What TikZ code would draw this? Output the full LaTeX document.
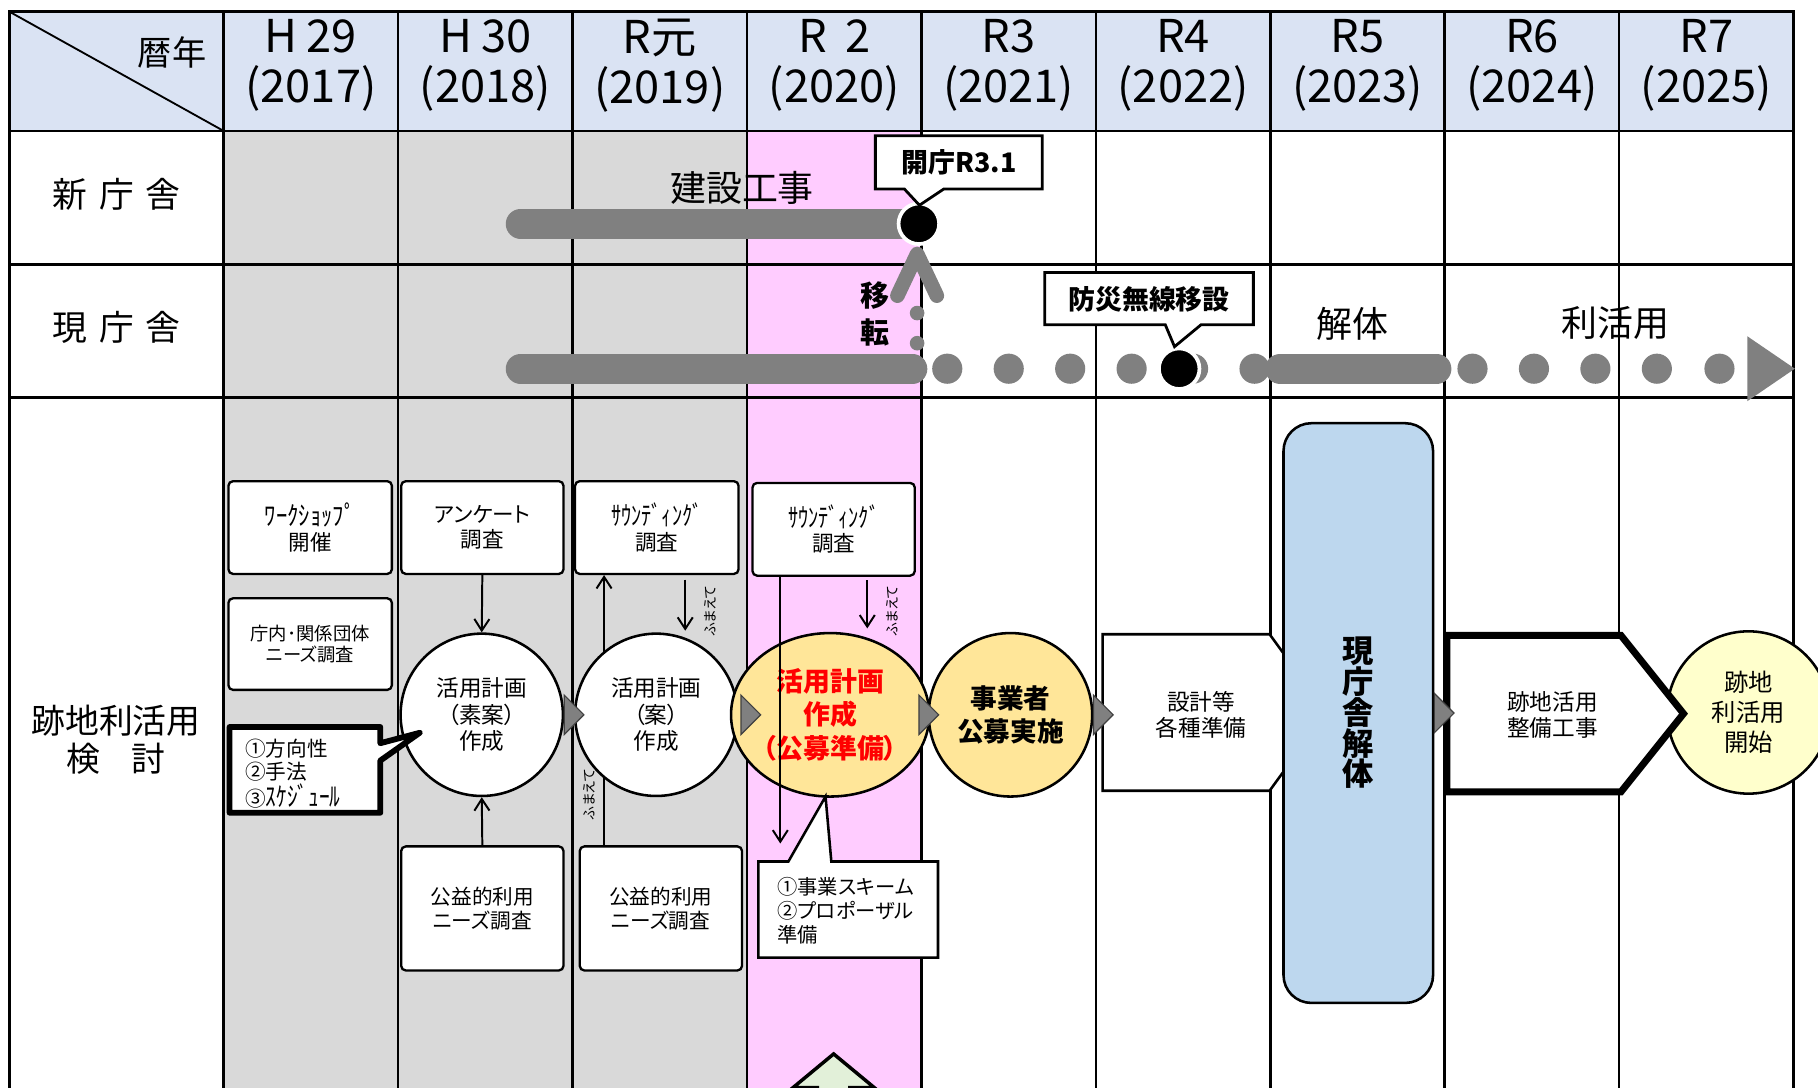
\documentclass[tikz,border=0pt]{standalone}
\usepackage{fontspec}
\usepackage{graphicx}
\setmainfont{Noto Sans CJK JP}[CharacterWidth=AlternateProportional]
\usetikzlibrary{arrows.meta,shapes.geometric}
\definecolor{hdr}{HTML}{DAE3F3}
\definecolor{greybg}{HTML}{D9D9D9}
\definecolor{pinkbg}{HTML}{FFCCFF}
\definecolor{barc}{HTML}{808080}
\definecolor{ylw}{HTML}{FFE699}
\definecolor{lylw}{HTML}{FFFFCC}
\definecolor{lblue}{HTML}{BDD7EE}
\definecolor{lgreen}{HTML}{E2F0D9}
\newcommand\myfs[2]{\fontsize{#1}{#2}\selectfont}
\newcommand\hwk[2]{\scalebox{#1}[1]{\myfs{11.5}{10.5}#2}}
\begin{document}
\begin{tikzpicture}[x=0.5pt,y=-0.5pt,
  gridl/.style={line width=1.1pt},
  barl/.style={draw=barc, line width=12.8pt, line cap=round},
  gdot/.style={circle, fill=barc, inner sep=0pt, minimum size=13pt},
  sdot/.style={circle, fill=barc, inner sep=0pt, minimum size=6.3pt},
  bdot/.style={circle, fill=black, draw=white, line width=1.6pt, inner sep=0pt, minimum size=17.5pt},
  sbox/.style={draw, line width=1pt, rounded corners=2pt, fill=white, align=center, inner sep=0pt, minimum width=70.5pt, minimum height=40pt, font=\myfs{9.3}{10.5}},
  circ/.style={circle, draw, line width=1.1pt, fill=white, align=center, inner sep=0pt, minimum size=70pt, font=\myfs{9.75}{11.5}},
  flowtri/.style={fill=barc, draw=black!75, line width=0.5pt},
  thinarr/.style={line width=0.85pt, -{Straight Barb[length=5pt,width=6.5pt]}},
  fumae/.style={rotate=90, font=\myfs{6}{6}, inner sep=0pt},
  calloutl/.style={draw, fill=white, line width=1.2pt, line join=miter},
  big/.style={font=\myfs{15.5}{18}, inner sep=0pt},
  hdrtxt/.style={align=center, inner sep=0pt, font=\myfs{19.5}{21.5}},
  boldlab/.style={inner sep=0pt, font=\myfs{11.6}{12}\bfseries},
]
\clip (0,0) rectangle (1568,938);
\fill[white] (0,0) rectangle (1568,938);
% backgrounds
\fill[hdr] (8,10) rectangle (1547,113);
\fill[greybg] (193,113) rectangle (644,950);
\fill[pinkbg] (644,113) rectangle (795,950);
% grid
\draw[gridl] (8,950) -- (8,10) -- (1547,10) -- (1547,950);
\foreach \y in {113,228,343} \draw[gridl] (8,\y) -- (1547,\y);
\draw[gridl] (193,10) -- (193,950);
\foreach \i in {1,...,8} \draw[gridl] ({193+150.44*\i},10) -- ({193+150.44*\i},950);
\draw[line width=0.8pt] (8,10) -- (193,113);
% header
\node[inner sep=0pt, font=\myfs{14.75}{16}] (reki) at (148.5,45) {暦年};
\foreach \i/\a/\b in {1/{H\hspace{0.2em}29}/2017,2/{H\hspace{0.2em}30}/2018,3/R元/2019,4/{R\hspace{0.4em}2}/2020,5/R3/2021,6/R4/2022,7/R5/2023,8/R6/2024,9/R7/2025}
  \node[hdrtxt] (yr\i) at ({193+150.44*(\i-0.5)},56.5) {\a\\(\b)};
% row labels
\node[inner sep=0pt, font=\myfs{15}{18}] (rl1) at (100.5,167.5) {新\hspace{5pt}庁\hspace{5pt}舎};
\node[inner sep=0pt, font=\myfs{15}{18}] (rl2) at (100.5,282.5) {現\hspace{5pt}庁\hspace{5pt}舎};
\node[inner sep=0pt, align=center, font=\myfs{14.6}{16.75}] (rl3) at (100,638) {跡地利活用\\検\hspace{0.9em}討};
% new building row
\coordinate (kaicho) at (792.5,193);
\draw[barl] (449,193) -- (kaicho);
\node[big] (kensetsu) at (640,162) {建設工事};
\node[bdot] (kc) at (kaicho) {};
\draw[calloutl] (755,117) -- (899,117) -- (899,163) -- (814,163) -- (793,177) -- (780,163) -- (755,163) -- cycle;
\node[boldlab] (kaichot) at (827,140) {開庁R3.1};
% current building row
\coordinate (g1) at (449,318);
\coordinate (g2) at (787,318);
\draw[barl] (g1) -- (g2);
\foreach \x in {817,870,923,976,1029,1082,1270,1323,1376,1429,1483} \node[gdot] (d\x) at (\x,318) {};
\coordinate (k1) at (1104,318);
\coordinate (k2) at (1239,318);
\draw[barl] (k1) -- (k2);
\node[sdot] (v1) at (791,270) {};
\node[sdot] (v2) at (791,296) {};
\draw[draw=barc, line width=6.3pt, line cap=round, line join=round] (774,255) -- (791,219) -- (808,255);
\node[bdot] (bosai) at (1017,318) {};
\draw[calloutl] (901,235) -- (1081,235) -- (1081,280) -- (1036,280) -- (1013,299) -- (1005,280) -- (901,280) -- cycle;
\node[boldlab] (bosait) at (991,258) {防災無線移設};
\node[big] (kaitai) at (1166.5,279) {解体};
\node[big] (rikatsu) at (1393,279) {利活用};
\fill[barc] (1507,290) -- (1548,318) -- (1507,346) -- cycle;
\node[inner sep=0pt, font=\myfs{12.5}{13}\bfseries] (iten1) at (754.5,254.5) {移};
\node[inner sep=0pt, font=\myfs{12.5}{13}\bfseries] (iten2) at (754.5,287) {転};
% bottom section boxes
\node[sbox] (ws) at (267.5,455) {\hwk{0.85}{ﾜｰｸｼｮｯﾌﾟ}\\開催};
\node[sbox, font=\myfs{7.9}{9}, minimum height=39.5pt] (chonai) at (267.5,555.5) {庁内･関係団体\\ニーズ調査};
\node[sbox, minimum width=70pt] (enq) at (416,455) {アンケート\\調査};
\node[sbox] (snd1) at (566.5,455) {\hwk{0.76}{ｻｳﾝﾃﾞｨﾝｸﾞ}\\調査};
\node[sbox, minimum width=70pt] (snd2) at (719,456.5) {\hwk{0.76}{ｻｳﾝﾃﾞｨﾝｸﾞ}\\調査};
\node[sbox, minimum width=70pt, minimum height=53.5pt, font=\myfs{8.9}{10.5}] (pub1) at (416,783.5) {公益的利用\\ニーズ調査};
\node[sbox, minimum width=70pt, minimum height=53.5pt, font=\myfs{8.9}{10.5}] (pub2) at (570,783.5) {公益的利用\\ニーズ調査};
% arrow behind circle 2
\coordinate (a521b) at ([xshift=-24.5pt]pub2.north);
\coordinate (a521t) at (a521b |- snd1.south);
\draw[thinarr] (a521b) -- (a521t);
\node[fumae] (fm3) at (508.5,685) {ふまえて};
% circles
\node[circ] (c1) at (415.5,616.5) {活用計画\\（素案）\\作成};
\node[circ] (c2) at (566,616.5) {活用計画\\（案）\\作成};
\node[ellipse, draw, line width=1.1pt, fill=ylw, minimum width=85.5pt, minimum height=70.5pt, inner sep=0pt, align=center, text=red, font=\myfs{11.6}{14.5}\bfseries] (c3) at (716,616.5) {活用計画\\作成\\（公募準備）};
\node[circ, fill=ylw, minimum size=70.5pt, font=\myfs{11.5}{14.5}\bfseries] (c4) at (871.5,616.5) {事業者\\公募実施};
% design pentagon
\draw[line width=1.1pt, fill=white] (951,547) -- (1095,547) -- (1144,614.5) -- (1095,682) -- (951,682) -- cycle;
\node[align=center, inner sep=0pt, font=\myfs{9.75}{11.5}] (sekkei) at (1036,616.5) {設計等\\各種準備};
% demolition
\node[draw, line width=1.1pt, fill=lblue, rounded corners=12pt, minimum width=64.5pt, minimum height=250pt, inner sep=0pt, align=center, font=\myfs{13.5}{13.25}\bfseries] (demol) at (1171.5,615) {現\\庁\\舎\\解\\体};
% start circle and works pentagon
\node[circle, draw, line width=1.1pt, fill=lylw, minimum size=70pt, inner sep=0pt, align=center, font=\myfs{10.5}{13}] (kaishi) at (1508,614.5) {跡地\\利活用\\開始};
\draw[line width=3pt, fill=white, line join=miter] (1248,548) -- (1398,548) -- (1452,615.5) -- (1398,683) -- (1248,683) -- cycle;
\node[align=center, inner sep=0pt, font=\myfs{9.75}{11.5}] (seibi) at (1339,616.5) {跡地活用\\整備工事};
% flow triangles
\draw[flowtri] (c1.east) ++(0,-17) -- ++(17,17) -- ++(-17,17) -- cycle;
\draw[flowtri] ([xshift=1pt]c2.east) ++(0,-17) -- ++(17,17) -- ++(-17,17) -- cycle;
\draw[flowtri] ([xshift=-5pt]c3.east) ++(0,-17) -- ++(17,17) -- ++(-17,17) -- cycle;
\draw[flowtri] (c4.east) ++(0,-17) -- ++(17,17) -- ++(-17,17) -- cycle;
\draw[flowtri] (demol.east) ++(0,-17) -- ++(17,17) -- ++(-17,17) -- cycle;
% callout 1
\draw[line width=2.5pt, fill=white, line join=round] (198,627) -- (328,627) -- (328,641) -- (362,632) -- (328,656) -- (328,701) -- (198,701) -- cycle;
\node[anchor=west, align=left, inner sep=0pt, font=\myfs{8.9}{10}] (hoshin) at (211,667) {①方向性\\②手法\\③\hwk{0.8}{ｽｹｼﾞｭｰﾙ}};
% callout 2
\draw[line width=1.1pt, fill=white] (654,743) -- (680,743) -- (712,687) -- (717,743) -- (809,743) -- (809,826) -- (654,826) -- cycle;
\node[anchor=west, align=left, inner sep=0pt, font=\myfs{8.75}{10.25}] (scheme) at (670,785.5) {①事業スキーム\\②プロポーザル\\準備};
% arrows
\draw[thinarr] (enq.south) -- (c1.north);
\draw[thinarr] (pub1.north) -- (c1.south);
\draw[thinarr] ([xshift=12.25pt,yshift=-2pt]snd1.south) -- ([xshift=12.25pt,yshift=-24pt]snd1.south);
\node[fumae] (fm1) at (613,527) {ふまえて};
\draw[thinarr] ([xshift=14.5pt,yshift=-1.5pt]snd2.south) -- ([xshift=14.5pt,yshift=-22.25pt]snd2.south);
\node[fumae] (fm2) at (770,527) {ふまえて};
\draw[thinarr] ([xshift=-23pt]snd2.south) -- ([xshift=-23pt,yshift=-115pt]snd2.south);
% green up-arrow at bottom
\draw[line width=1.5pt, fill=lgreen, line join=miter] (719,909) -- (754,938) -- (733,938) -- (733,1000) -- (705,1000) -- (705,938) -- (684,938) -- cycle;
\end{tikzpicture}
\end{document}
